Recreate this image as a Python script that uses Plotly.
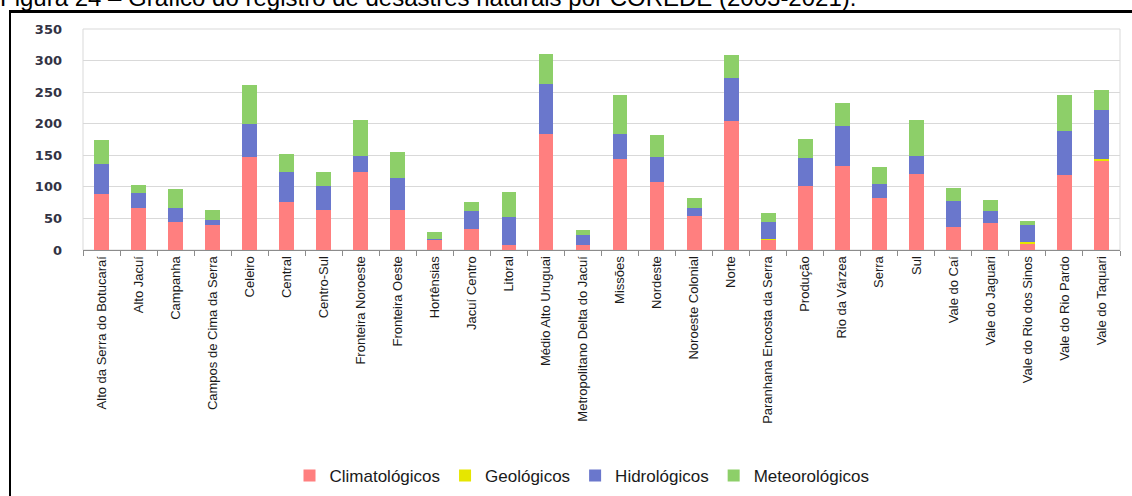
import plotly.graph_objects as go

categories = [
    "Alto da Serra do Botucaraí", "Alto Jacuí", "Campanha", "Campos de Cima da Serra",
    "Celeiro", "Central", "Centro-Sul", "Fronteira Noroeste", "Fronteira Oeste",
    "Hortênsias", "Jacuí Centro", "Litoral", "Médio Alto Uruguai",
    "Metropolitano Delta do Jacuí", "Missões", "Nordeste", "Noroeste Colonial",
    "Norte", "Paranhana Encosta da Serra", "Produção", "Rio da Várzea", "Serra",
    "Sul", "Vale do Caí", "Vale do Jaguari", "Vale do Rio dos Sinos",
    "Vale do Rio Pardo", "Vale do Taquari",
]
climatologicos = [89, 67, 45, 39, 148, 76, 63, 124, 63, 16, 34, 8, 184,
                  8, 144, 107, 54, 204, 16, 101, 133, 83, 120, 37, 43, 10, 118, 142]
geologicos = [0, 0, 0, 0, 0, 0, 0, 0, 0, 0, 0, 0, 0,
              0, 0, 0, 0, 0, 1, 0, 0, 0, 0, 0, 0, 2, 0, 2]
hidrologicos = [47, 23, 22, 8, 52, 48, 38, 25, 51, 2, 27, 44, 79,
                15, 39, 41, 13, 68, 28, 44, 64, 21, 29, 41, 18, 27, 70, 77]
meteorologicos = [38, 13, 29, 16, 61, 28, 22, 57, 42, 11, 15, 40, 48,
                  9, 63, 34, 16, 37, 14, 31, 36, 27, 57, 20, 18, 7, 58, 33]
y_ticks = [0, 50, 100, 150, 200, 250, 300, 350]

series = [
    ("Climatológicos", climatologicos, "#FF7F7F"),
    ("Geológicos", geologicos, "#E6E600"),
    ("Hidrológicos", hidrologicos, "#6A77CC"),
    ("Meteorológicos", meteorologicos, "#8DCF69"),
]

fig = go.Figure()
for name, vals, color in series:
    fig.add_trace(go.Bar(
        x=categories, y=vals, name=name,
        marker=dict(color=color, line=dict(width=0)),
    ))

W, H = 1132, 496
L, R, T, B = 83, 12, 29, 246
pw, ph = W - L - R, H - T - B

def px(x):
    return (x - L) / pw

def py(y):
    return (H - B - y) / ph

fig.update_layout(
    width=W, height=H,
    margin=dict(l=L, r=R, t=T, b=B, pad=0, autoexpand=False),
    barmode="stack",
    bargap=0.6,
    paper_bgcolor="white",
    plot_bgcolor="white",
    font=dict(family="Liberation Sans", color="#1a1a1a"),
    showlegend=True,
    legend=dict(
        orientation="h", x=px(582), xanchor="center", y=py(476), yanchor="middle",
        font=dict(family="Liberation Sans", size=17, color="#1a1a1a"),
        traceorder="normal", itemwidth=30,
    ),
    xaxis=dict(
        type="category", tickangle=-90,
        tickfont=dict(family="Liberation Sans", size=13, color="#1a1a1a"),
        showline=True, linecolor="#8c8c8c", linewidth=1,
        ticks="outside", tickson="boundaries", ticklen=5, tickcolor="#8c8c8c",
        showgrid=False, automargin=False,
    ),
    yaxis=dict(
        range=[0, 350], tickvals=y_ticks,
        tickfont=dict(family="DejaVu Sans", size=13, color="#333344", weight="bold"),
        showgrid=True, gridcolor="#d9d9d9", gridwidth=1,
        zeroline=False, showline=False, ticks="", ticklabelstandoff=20,
        automargin=False,
    ),
    shapes=[
        dict(type="rect", xref="paper", yref="paper", x0=0, x1=1, y0=0, y1=1,
             line=dict(color="#d9d9d9", width=1), layer="below"),
        dict(type="line", xref="paper", yref="paper", x0=px(9), x1=px(1132),
             y0=py(11.5), y1=py(11.5), line=dict(color="black", width=3)),
        dict(type="line", xref="paper", yref="paper", x0=px(10), x1=px(10),
             y0=py(11), y1=py(497), line=dict(color="black", width=2)),
    ],
    annotations=[
        dict(text="Figura 24 – Gráfico do registro de desastres naturais por COREDE (2003-2021).",
             xref="paper", yref="paper", x=px(-2), y=py(13.5), xanchor="left", yanchor="bottom",
             showarrow=False, font=dict(family="Liberation Sans", size=24, color="black")),
    ],
)

fig.write_html(
    "out.html",
    config={"displayModeBar": False},
    post_script="document.body.style.margin='0';document.body.style.overflow='hidden';",
)
